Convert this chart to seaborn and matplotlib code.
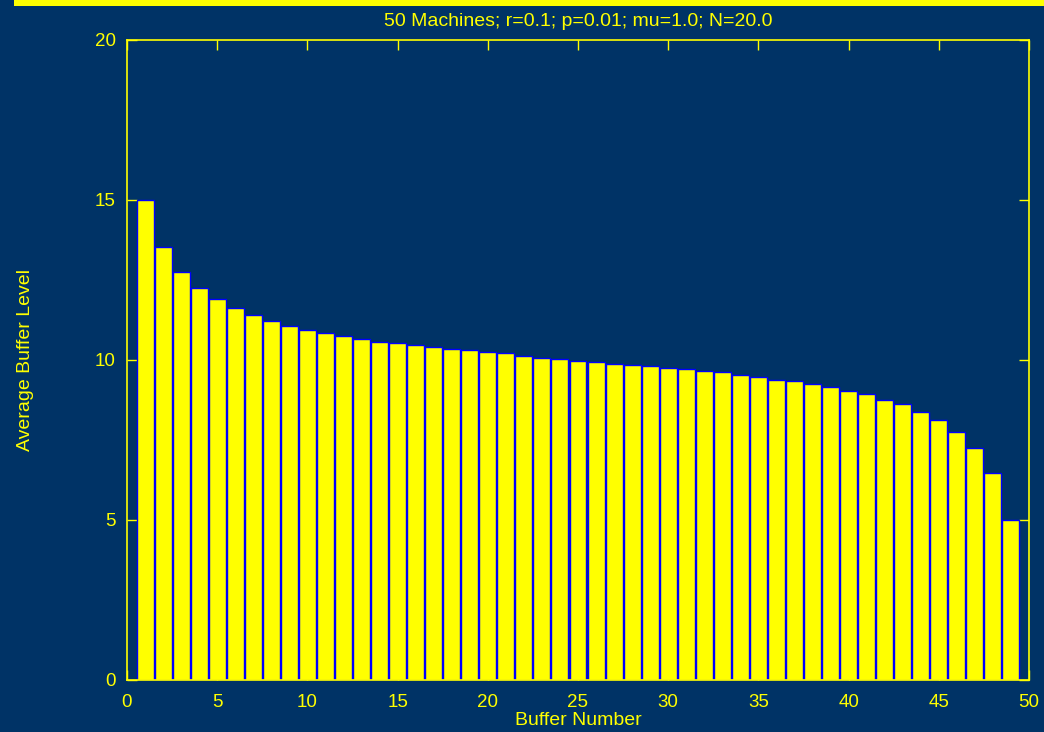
import numpy as np
import pandas as pd
import matplotlib
matplotlib.use("Agg")
import matplotlib.pyplot as plt
import seaborn as sns
from matplotlib.patches import Rectangle

# Data
buffers = list(range(1, 50))
levels = [15.0, 13.53, 12.76, 12.26, 11.9, 11.63, 11.4, 11.21, 11.07, 10.93,
          10.84, 10.75, 10.67, 10.56, 10.52, 10.47, 10.4, 10.34, 10.3, 10.26,
          10.21, 10.13, 10.07, 10.02, 9.98, 9.94, 9.88, 9.84, 9.8, 9.75,
          9.71, 9.66, 9.62, 9.52, 9.47, 9.38, 9.34, 9.25, 9.17, 9.03,
          8.94, 8.75, 8.62, 8.38, 8.11, 7.75, 7.25, 6.47, 5.0]
xticks = [0, 5, 10, 15, 20, 25, 30, 35, 40, 45, 50]
yticks = [0, 5, 10, 15, 20]
title = "50 Machines; r=0.1; p=0.01; mu=1.0; N=20.0"
xlabel = "Buffer Number"
ylabel = "Average Buffer Level"

BG = "#003366"
FG = "#ffff00"

sns.set_theme(style="white")
plt.rcParams['font.family'] = ['Liberation Sans', 'DejaVu Sans']

fig = plt.figure(figsize=(10.44, 7.32), dpi=100, facecolor=BG)
ax = fig.add_axes([127/1044, 1-680/732, (1029-127)/1044, (680-40)/732])
ax.set_facecolor(BG)

df = pd.DataFrame({"buffer": buffers, "level": levels})
sns.barplot(data=df, x="buffer", y="level", native_scale=True, width=0.94,
            color=FG, saturation=1, edgecolor="#0000ff", linewidth=1.0, ax=ax)

ax.set_xlim(0, 50)
ax.set_ylim(0, 20)
ax.set_xticks(xticks)
ax.set_yticks(yticks)
ax.set_xticklabels([str(t) for t in xticks])
ax.set_yticklabels([str(t) for t in yticks])
ax.tick_params(axis='both', which='both', direction='in', length=7, width=1,
               colors=FG, labelcolor=FG, labelsize=13.5, top=True, right=True,
               bottom=True, left=True)
ax.tick_params(axis='x', pad=10)
ax.tick_params(axis='y', pad=8)
for s in ax.spines.values():
    s.set_visible(True)
    s.set_color(FG)
    s.set_linewidth(1.2)

ax.set_title(title, color=FG, fontsize=14, pad=10)
ax.set_xlabel(xlabel, color=FG, fontsize=14, labelpad=1)
ax.set_ylabel(ylabel, color=FG, fontsize=14, labelpad=44)

# yellow band at the top of the slide
fig.patches.append(Rectangle((14/1044, 1-6/732), 1.0, 6/732, transform=fig.transFigure,
                             facecolor=FG, edgecolor='none', zorder=10))

fig.savefig("out.png", dpi=100, facecolor=BG)
